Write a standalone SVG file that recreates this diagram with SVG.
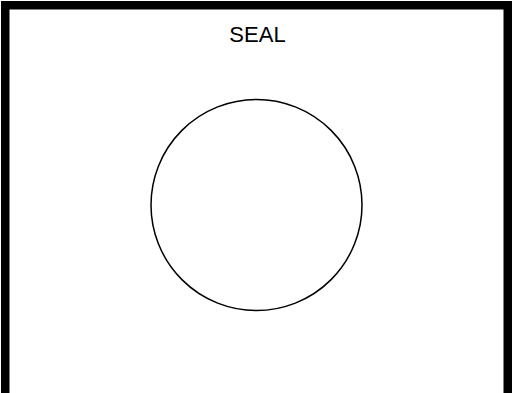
<svg xmlns="http://www.w3.org/2000/svg" width="520" height="393" viewBox="0 0 520 393">
<style>
.frame{fill:none;stroke:#000;stroke-width:8.5}
.label{font-family:"Liberation Sans",Arial,sans-serif;font-size:22px;fill:#000;text-anchor:middle}
.shape{fill:#fff;stroke:#000;stroke-width:1.5}
</style>
<rect width="520" height="393" fill="#fff"/>
<g id="frame">
<path class="frame" d="M5.25,393 V5.25 H507.75 V393"/>
</g>
<g id="seal">
<text class="label" x="257.5" y="42">SEAL</text>
<circle class="shape" cx="256.5" cy="205" r="105.5"/>
</g>
</svg>
